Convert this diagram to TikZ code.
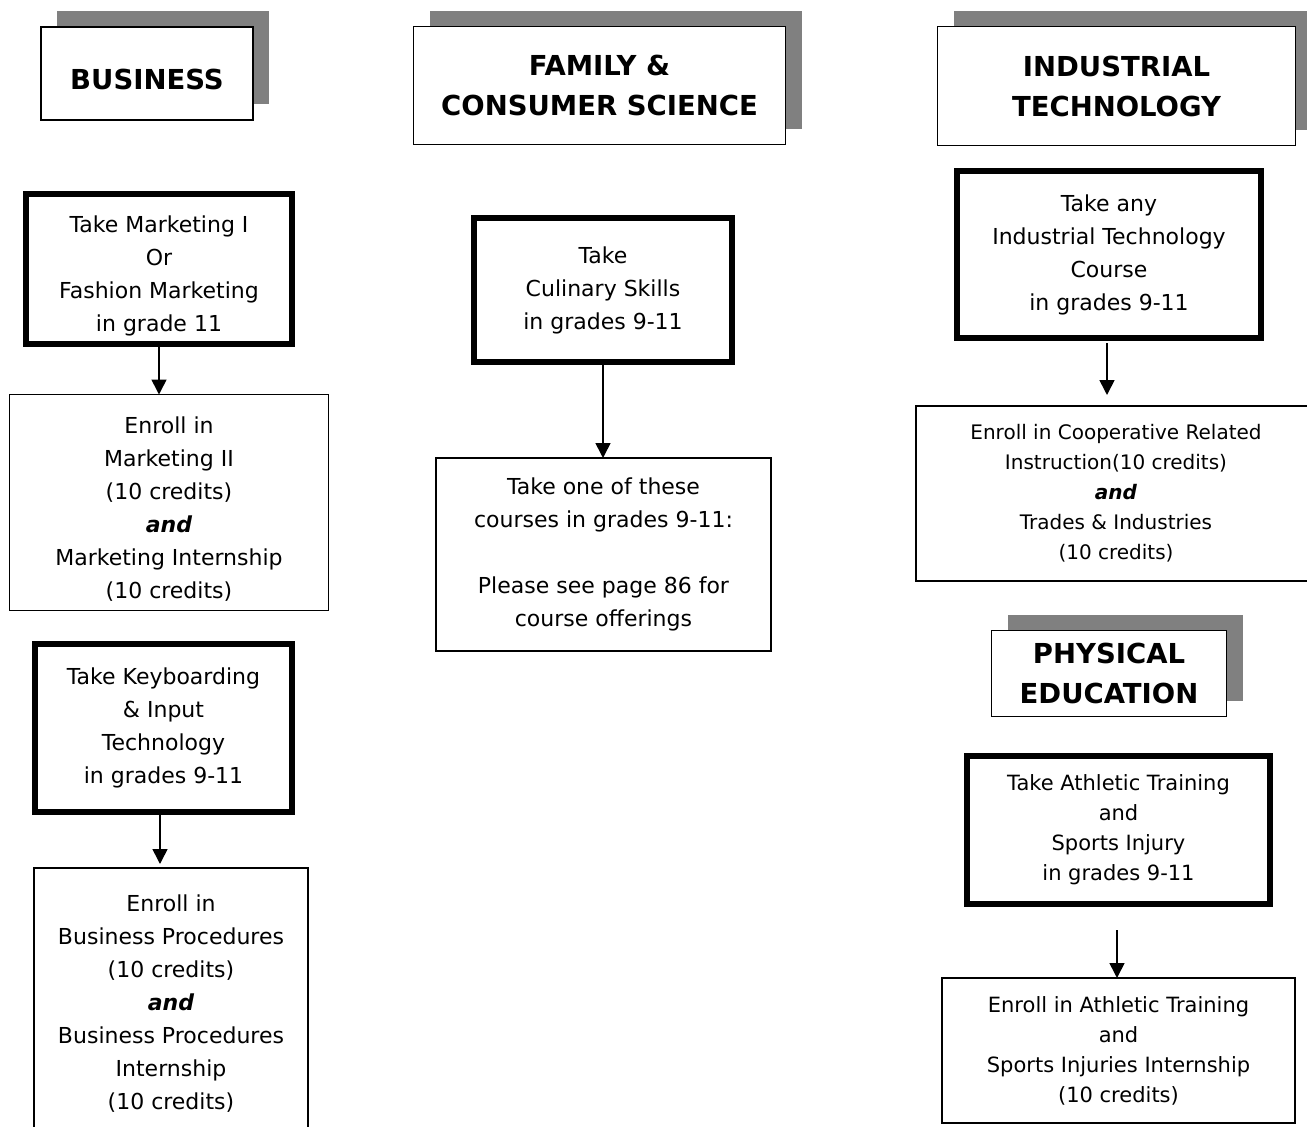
\documentclass[tikz,border=0pt]{standalone}
\usepackage{fontspec}
\setmainfont{DejaVu Sans}
\usetikzlibrary{arrows.meta,shadows}
\definecolor{shadowgray}{RGB}{128,128,128}
\newcommand{\boldand}{\textbf{\textit{and}}}
% invisible strut that pushes a text block downwards inside its box
\newcommand{\lowergap}[1]{\rule{0pt}{#1}}
\begin{document}
\begin{tikzpicture}[x=1pt,y=-1pt,
  every node/.style={inner sep=0pt, outer sep=0pt, align=center},
  headbox/.style={draw, line width=1.6pt, fill=white,
    font=\fontsize{27.5}{40}\selectfont\bfseries,
    drop shadow={shadow xshift=16pt,shadow yshift=16pt,fill=shadowgray,opacity=1}},
  thinbox/.style={draw, line width=1.6pt, fill=white, font=\fontsize{22}{33}\selectfont},
  thickbox/.style={draw, line width=6pt, fill=white, font=\fontsize{22}{33}\selectfont},
  smalltext/.style={font=\fontsize{20}{30}\selectfont},
  midtext/.style={font=\fontsize{21}{30}\selectfont},
  arr/.style={line width=1.6pt, -{Triangle[width=15pt,length=15pt]}}
]
\useasboundingbox (0,0) rectangle (1307,1127);
\clip (0,0) rectangle (1307,1127);

% ---- column headings ----
\node[headbox, minimum width=212pt, minimum height=93pt] (bushead) at (147,73.5) {\lowergap{32pt}BUSINESS};
\node[headbox, minimum width=372pt, minimum height=118pt] (famhead) at (599.5,85.5) {FAMILY \&\\CONSUMER SCIENCE};
\node[headbox, minimum width=358pt, minimum height=119pt] (indhead) at (1116.5,86) {INDUSTRIAL\\TECHNOLOGY};
\node[headbox, minimum width=235pt, minimum height=86pt] (pehead) at (1109,673.5) {PHYSICAL\\EDUCATION};

% ---- business column ----
\node[thickbox, minimum width=266pt, minimum height=150pt] (mktone) at (159,269)
  {\lowergap{30pt}Take Marketing I\\Or\\Fashion Marketing\\in grade 11};
\node[thinbox, minimum width=319pt, minimum height=216pt] (mkttwo) at (169,502.5)
  {\lowergap{30pt}Enroll in\\Marketing II\\(10 credits)\\\boldand\\Marketing Internship\\(10 credits)};
\node[thickbox, minimum width=257pt, minimum height=168pt] (keyb) at (163.5,728)
  {Take Keyboarding\\\& Input\\Technology\\in grades 9-11};
\node[thinbox, minimum width=274pt, minimum height=272pt] (bproc) at (171,1004)
  {Enroll in\\Business Procedures\\(10 credits)\\\boldand\\Business Procedures\\Internship\\(10 credits)};

% ---- family & consumer science column ----
\node[thickbox, minimum width=258pt, minimum height=144pt] (culin) at (603,290)
  {Take\\Culinary Skills\\in grades 9-11};
\node[thinbox, minimum width=335pt, minimum height=193pt] (takeone) at (603.5,554.5)
  {Take one of these\\courses in grades 9-11:\\[33pt]Please see page 86 for\\course offerings};

% ---- industrial technology column ----
\node[thickbox, minimum width=304pt, minimum height=167pt] (indtake) at (1109,254.5)
  {Take any\\Industrial Technology\\Course\\in grades 9-11};
\node[thinbox, smalltext, minimum width=400pt, minimum height=175pt] (coop) at (1116,493.5)
  {Enroll in Cooperative Related\\Instruction(10 credits)\\\boldand\\Trades \& Industries\\(10 credits)};

% ---- physical education column ----
\node[thickbox, midtext, minimum width=303pt, minimum height=148pt] (athtake) at (1118.5,830)
  {Take Athletic Training\\and\\Sports Injury\\in grades 9-11};
\node[thinbox, midtext, minimum width=353pt, minimum height=145pt] (athenr) at (1118.5,1050.5)
  {Enroll in Athletic Training\\and\\Sports Injuries Internship\\(10 credits)};

% ---- connectors ----
\draw[arr] (mktone.south) -- (mktone.south |- mkttwo.north);
\draw[arr, shorten <=3pt, shorten >=4pt] ([xshift=-3.5pt]keyb.south) -- ([xshift=-3.5pt]keyb.south |- bproc.north);
\draw[arr] (culin.south) -- (culin.south |- takeone.north);
\draw[arr, shorten <=5pt, shorten >=11pt] ([xshift=-2pt]indtake.south) -- ([xshift=-2pt]indtake.south |- coop.north);
\draw[arr, shorten <=26pt] ([xshift=-1.5pt]athtake.south) -- ([xshift=-1.5pt]athtake.south |- athenr.north);
\end{tikzpicture}
\end{document}
